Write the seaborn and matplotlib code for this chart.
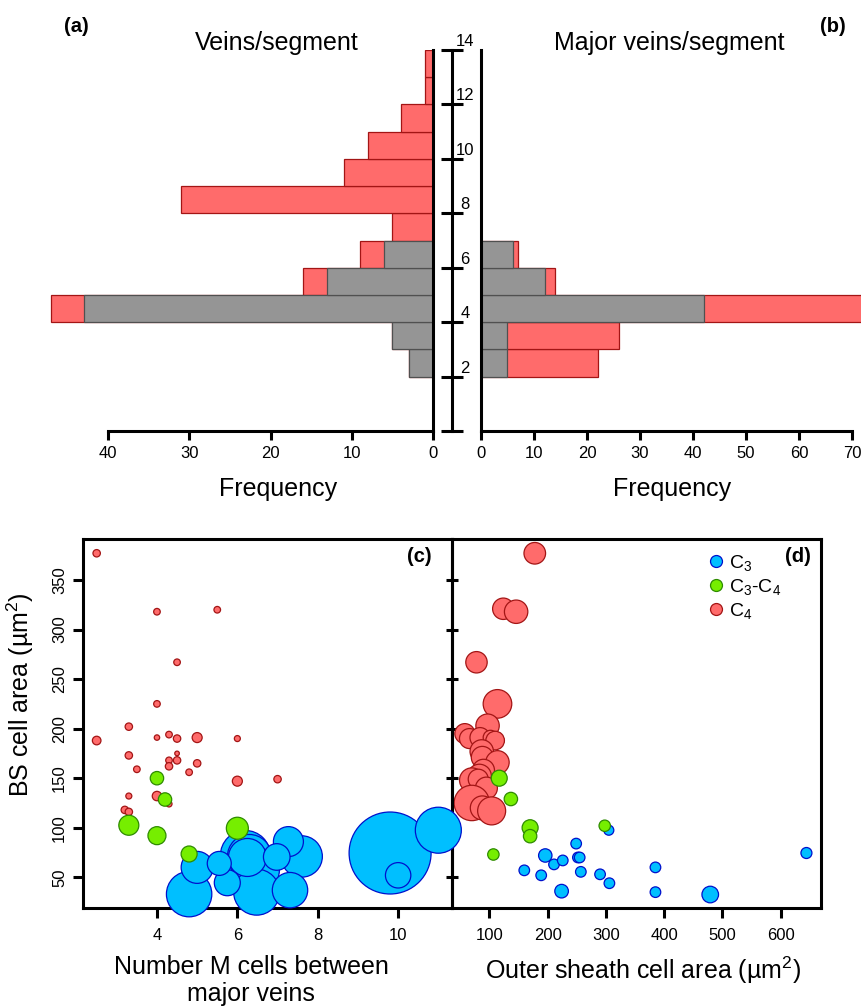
import numpy as np
import pandas as pd
import matplotlib
matplotlib.use("Agg")
import matplotlib.pyplot as plt
import matplotlib.transforms as mtrans
from matplotlib.lines import Line2D
import seaborn as sns

# ---------------- data ----------------
# histogram bins (veins per segment), bin centres
bin_mid = [2.5, 3.5, 4.5, 5.5, 6.5, 7.5, 8.5, 9.5, 10.5, 11.5, 12.5, 13.5]
# (a) veins / segment
a_c3 = [3, 5, 43, 13, 6, 0, 0, 0, 0, 0, 0, 0]
a_c4 = [0, 0, 4, 3, 3, 5, 31, 11, 8, 4, 1, 1]
# (b) major veins / segment
b_c3 = [5, 5, 42, 12, 6, 0, 0, 0, 0, 0, 0, 0]
b_c4 = [17, 21, 33, 2, 1, 0, 0, 0, 0, 0, 0, 0]

# (c) BS cell area vs number of M cells between major veins
c4_c_x = [2.5, 4.0, 5.5, 4.5, 4.0, 3.3, 2.5, 4.0, 4.3, 4.5, 5.0, 6.0, 4.5, 3.3,
          4.3, 4.5, 4.3, 5.0, 3.5, 4.8, 6.0, 7.0, 4.0, 3.3, 4.3, 3.2, 3.3]
c4_c_y = [377, 318, 320, 267, 225, 202, 188, 191, 194, 190, 191, 190, 175, 173,
          168, 168, 162, 165, 159, 156, 147, 149, 132, 132, 124, 118, 116]
c4_c_w = [3.7, 3.3, 3.3, 3.3, 3.3, 3.7, 4.3, 2.7, 3.3, 3.7, 5.0, 3.0, 2.3, 3.7,
          3.3, 3.7, 3.7, 3.7, 3.3, 3.3, 5.0, 3.7, 4.7, 3.0, 3.0, 3.7, 3.7]
c34_c_x = [4.0, 4.2, 3.3, 4.0, 6.0, 4.8]
c34_c_y = [150, 128.5, 102.5, 92, 99.5, 73.5]
c34_c_w = [6.7, 6.7, 10, 9, 11, 8]
c3_c_x = [9.8, 6.2, 6.3, 6.48, 6.48, 4.8, 11.0, 7.6, 6.25, 7.31, 5.0, 7.27,
          6.98, 5.75, 10.0, 5.55]
c3_c_y = [74.5, 72, 71, 57, 35, 33, 97.5, 71, 70, 37, 60, 86, 70.5, 44.5, 52, 64]
c3_c_w = [41, 25, 22, 22.7, 23, 22.7, 23, 20.7, 19, 17.7, 16, 15, 13.3, 13, 12.7, 12]

# (d) BS cell area vs outer sheath cell area
c4_d_x = [178, 124, 146, 78, 114, 97, 58, 66, 84, 102, 110, 87, 88, 114, 90,
          83, 70, 81, 95, 70, 88, 104]
c4_d_y = [377, 321, 318, 267, 225, 203, 195, 190, 191, 191, 188, 177, 171, 166,
          158, 152, 148, 149, 140, 125, 120, 117]
c4_d_w = [10.8, 10.7, 11.7, 10.7, 14.3, 11.7, 10, 10, 10, 7.3, 9.3, 11.7, 11,
          11.7, 11, 12, 12.3, 10, 11, 17.7, 12, 14]
c34_d_x = [117, 137, 170, 170, 107, 298]
c34_d_y = [150, 129, 100, 91.5, 73, 102]
c34_d_w = [8, 6.7, 8, 6.7, 5.7, 5.7]
c3_d_x = [305, 644, 249, 196, 211, 226, 252, 255, 160, 189, 257, 290, 306, 224,
          385, 385, 479]
c3_d_y = [97.5, 74.5, 84, 72, 63, 67, 70, 70, 57, 52, 55.5, 53, 44, 36, 60, 35, 32.6]
c3_d_w = [5, 5.5, 5.3, 6.7, 5.3, 5.3, 5.3, 5.3, 5.3, 5.3, 5.3, 5.3, 5.3, 6.8,
          5.3, 5.3, 8.3]

legend_labels = [r"C$_3$", r"C$_3$-C$_4$", r"C$_4$"]

# ---------------- style ----------------
sns.set_theme(style="white")
plt.rcParams["font.family"] = ["Liberation Sans", "DejaVu Sans"]
plt.rcParams["mathtext.fontset"] = "custom"
plt.rcParams["mathtext.rm"] = "Liberation Sans"
plt.rcParams["mathtext.it"] = "Liberation Sans:italic"
plt.rcParams["mathtext.bf"] = "Liberation Sans:bold"
plt.rcParams["axes.edgecolor"] = "black"
plt.rcParams["xtick.color"] = "black"
plt.rcParams["ytick.color"] = "black"
plt.rcParams["text.color"] = "black"
plt.rcParams["axes.labelcolor"] = "black"

RED, RED_E = "#FF6B6B", "#A31515"
GRAY, GRAY_E = "#959595", "#505050"
BLUE, BLUE_E = "#00BFFF", "#0010CC"
GREEN, GREEN_E = "#76EE00", "#2E8B00"
LW = 2.2
TICK = 12

W, H = 861, 1006
fig = plt.figure(figsize=(W / 100, H / 100), dpi=100)


def rect(x0, y0, x1, y1):
    return [x0 / W, 1 - y1 / H, (x1 - x0) / W, (y1 - y0) / H]


edges = list(range(2, 15))


def hist(ax, counts, fc, ec, **kw):
    df = pd.DataFrame({"mid": bin_mid, "n": counts})
    sns.histplot(data=df, y="mid", weights="n", bins=edges, ax=ax, color=fc,
                 edgecolor=ec, linewidth=0.9, alpha=1, **kw)


# ---------------- (a) ----------------
axa = fig.add_axes(rect(40, 50, 433, 431))
axa.patch.set_alpha(0)
tot_a = [p + q for p, q in zip(a_c3, a_c4)]
hist(axa, tot_a, RED, RED_E)
hist(axa, a_c3, GRAY, GRAY_E)
axa.set_xlim(48.4, 0)
axa.set_ylim(0, 14)
for s in ["left", "top"]:
    axa.spines[s].set_visible(False)
axa.spines["right"].set_linewidth(LW)
axa.spines["bottom"].set_linewidth(LW)
axa.spines["bottom"].set_bounds(0, 40)
axa.set_xticks([0, 10, 20, 30, 40])
axa.set_yticks([])
axa.tick_params(axis="x", direction="out", length=6.5, width=LW, labelsize=TICK,
                pad=4, bottom=True)
axa.set_ylabel("")
axa.set_xlabel("Frequency", fontsize=18)
axa.xaxis.set_label_coords((278 - 40) / 393, -(477 - 431) / 381)

# ---------------- (b) ----------------
axb = fig.add_axes(rect(481, 50, 852, 431))
axb.patch.set_alpha(0)
tot_b = [p + q for p, q in zip(b_c3, b_c4)]
hist(axb, tot_b, RED, RED_E, clip_on=False)
hist(axb, b_c3, GRAY, GRAY_E)
axb.set_xlim(0, 70)
axb.set_ylim(0, 14)
for s in ["right", "top"]:
    axb.spines[s].set_visible(False)
axb.spines["left"].set_linewidth(LW)
axb.spines["bottom"].set_linewidth(LW)
axb.set_xticks(range(0, 71, 10))
axb.set_yticks([])
axb.tick_params(axis="x", direction="out", length=6.5, width=LW, labelsize=TICK,
                pad=4, bottom=True)
axb.set_ylabel("")
axb.set_xlabel("Frequency", fontsize=18)
axb.xaxis.set_label_coords((672 - 481) / 371, -(477 - 431) / 381)

# ---------------- central count axis ----------------
axm = fig.add_axes(rect(452, 50, 472, 431))
axm.patch.set_alpha(0)
axm.set_ylim(0, 14)
axm.set_xlim(0, 1)
for s in ["right", "top", "bottom"]:
    axm.spines[s].set_visible(False)
axm.spines["left"].set_linewidth(LW)
axm.set_xticks([])
axm.set_yticks(range(0, 15, 2))
axm.tick_params(axis="y", direction="inout", length=15.8, width=LW,
                labelleft=False, left=True)
off = mtrans.offset_copy(axm.transData, fig=fig, x=0, y=4, units="dots")
for v in range(2, 15, 2):
    axm.text(0.65, v, str(v), transform=off, ha="center", va="baseline",
             fontsize=TICK)

fig.text(277 / W, 1 - 50 / H, "Veins/segment", ha="center", va="baseline",
         fontsize=18)
fig.text(669 / W, 1 - 50 / H, "Major veins/segment", ha="center",
         va="baseline", fontsize=18)
fig.text(76 / W, 1 - 26 / H, "(a)", ha="center", va="center", fontsize=14.5,
         fontweight="bold")
fig.text(833 / W, 1 - 26 / H, "(b)", ha="center", va="center", fontsize=14.5,
         fontweight="bold")

# ---------------- (c) and (d) ----------------
axd = fig.add_axes(rect(452, 539, 821, 908))
axc = fig.add_axes(rect(83, 539, 452, 908))
axc.patch.set_alpha(0)
axd.patch.set_alpha(0)


def area(w):
    return [(1.44 * r) ** 2 for r in w]


all_areas = area(c4_c_w + c34_c_w + c3_c_w + c4_d_w + c34_d_w + c3_d_w)
amin, amax = min(all_areas), max(all_areas)


def bubbles(ax, xs, ys, ws, fc, ec):
    df = pd.DataFrame({"x": xs, "y": ys, "a": area(ws)})
    sns.scatterplot(data=df, x="x", y="y", size="a", sizes=(amin, amax),
                    size_norm=(amin, amax), color=fc, edgecolor=ec,
                    linewidth=0.9, legend=False, ax=ax, clip_on=False,
                    zorder=3, alpha=1)


bubbles(axc, c4_c_x, c4_c_y, c4_c_w, RED, RED_E)
bubbles(axc, c3_c_x, c3_c_y, c3_c_w, BLUE, BLUE_E)
bubbles(axc, c34_c_x, c34_c_y, c34_c_w, GREEN, GREEN_E)
bubbles(axd, c4_d_x, c4_d_y, c4_d_w, RED, RED_E)
bubbles(axd, c3_d_x, c3_d_y, c3_d_w, BLUE, BLUE_E)
bubbles(axd, c34_d_x, c34_d_y, c34_d_w, GREEN, GREEN_E)

for ax in (axc, axd):
    ax.set_ylim(19, 391.4)
    for s in ax.spines.values():
        s.set_linewidth(LW)
        s.set_visible(True)
    ax.set_yticks(range(50, 351, 50))

axc.set_xlim(2.16, 11.34)
axc.set_xticks([4, 6, 8, 10])
axc.tick_params(axis="both", direction="out", length=7.5, width=LW,
                labelsize=TICK, bottom=True, left=True)
axc.tick_params(axis="x", pad=7)
axc.tick_params(axis="y", pad=4)
for lab in axc.get_yticklabels():
    lab.set_rotation(90)
    lab.set_va("center")
axc.set_xlabel("Number M cells between\nmajor veins", fontsize=18,
               linespacing=1.15)
axc.xaxis.set_label_coords((251 - 83) / 369, -(955 - 908) / 369)
axc.set_ylabel(r"BS cell area (µm$^2$)", fontsize=18)
axc.yaxis.set_label_coords(-(83 - 36) / 369, (908 - 695) / 369)

axd.set_xlim(36, 669)
axd.set_xticks(range(100, 601, 100))
axd.tick_params(axis="x", direction="out", length=7.5, width=LW,
                labelsize=TICK, bottom=True, pad=7)
axd.tick_params(axis="y", direction="inout", length=8.6, width=LW,
                labelleft=False, left=True)
axd.set_ylabel("")
axd.set_xlabel(r"Outer sheath cell area (µm$^2$)", fontsize=18)
axd.xaxis.set_label_coords((643 - 452) / 369, -(955 - 908) / 369)

fig.text(419 / W, 1 - 556 / H, "(c)", ha="center", va="center", fontsize=14.5,
         fontweight="bold")
fig.text(798 / W, 1 - 556 / H, "(d)", ha="center", va="center", fontsize=14.5,
         fontweight="bold")

handles = [Line2D([], [], ls="", marker="o", markersize=8.6, mfc=fc, mec=ec,
                  mew=0.9)
           for fc, ec in [(BLUE, BLUE_E), (GREEN, GREEN_E), (RED, RED_E)]]
fig.legend(handles, legend_labels, loc="upper left",
           bbox_to_anchor=(708 / W, 1 - 553 / H), frameon=False, fontsize=14,
           handlelength=0.8, handletextpad=0.3, labelspacing=0.2,
           borderpad=0, borderaxespad=0)

fig.savefig("out.png", dpi=100)
